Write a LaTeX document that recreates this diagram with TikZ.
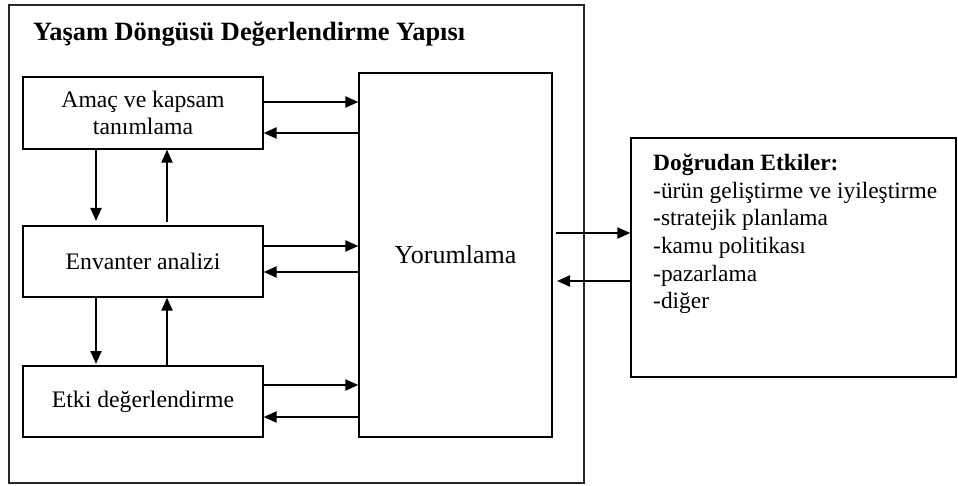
\documentclass[tikz,border=0pt]{standalone}
\usepackage{fontspec}
\setmainfont{Liberation Serif}
\usetikzlibrary{arrows.meta}
\begin{document}
\begin{tikzpicture}[x=1pt,y=-1pt,
  box/.style={draw=black,line width=1.3pt,rectangle,inner sep=0pt,align=center,
    font=\fontsize{23.7}{27}\selectfont},
  arr/.style={line width=2.3pt,-{Triangle[length=13pt,width=11pt]}}]
\useasboundingbox (0,0) rectangle (958,486);
\draw[line width=1.5pt,draw=black!85] (9,5) rectangle (584,483);
\node[anchor=west,inner sep=0pt,font=\fontsize{26.4}{30}\selectfont\bfseries] (title) at (33,34) {Yaşam Döngüsü Değerlendirme Yapısı};
\node[box,minimum width=240pt,minimum height=72pt] (b1) at (143,113) {Amaç ve kapsam\\tanımlama};
\node[box,minimum width=240pt,minimum height=71pt] (b2) at (143,261.5) {Envanter analizi};
\node[box,minimum width=240pt,minimum height=71pt] (b3) at (143,401.5) {Etki değerlendirme};
\node[box,minimum width=193pt,minimum height=364pt,font=\fontsize{26}{30}\selectfont] (yor) at (455.5,255) {Yorumlama};
\node[box,minimum width=325pt,minimum height=239pt] (rb) at (793.5,257.5) {};
\node[anchor=north west,inner sep=0pt,align=left,font=\fontsize{23.4}{27.6}\selectfont] (rt) at (653,154)
 {\textbf{Doğrudan Etkiler:}\\-ürün geliştirme ve iyileştirme\\\textbf{-}stratejik planlama\\-kamu politikası\\-pazarlama\\-diğer};
% horizontal arrows
\draw[arr] (b1.east |- 0,102) -- (yor.west |- 0,102);
\draw[arr] (yor.west |- 0,133) -- (b1.east |- 0,133);
\draw[arr] (b2.east |- 0,246) -- (yor.west |- 0,246);
\draw[arr] (yor.west |- 0,272) -- (b2.east |- 0,272);
\draw[arr] (b3.east |- 0,385) -- (yor.west |- 0,385);
\draw[arr] (yor.west |- 0,417) -- (b3.east |- 0,417);
% vertical arrows
\coordinate (d1) at (96,221);
\coordinate (u1) at (167,222);
\coordinate (d2) at (96,364);
\coordinate (u2) at (167,366);
\draw[arr] (b1.south -| d1) -- (d1);
\draw[arr] (u1) -- (b1.south -| u1);
\draw[arr] (b2.south -| d2) -- (d2);
\draw[arr] (u2) -- (b2.south -| u2);
% right side
\coordinate (r1) at (556,233);
\coordinate (r2) at (557,281);
\draw[arr] (r1) -- (rb.west |- r1);
\draw[arr] (rb.west |- r2) -- (r2);
\end{tikzpicture}
\end{document}
